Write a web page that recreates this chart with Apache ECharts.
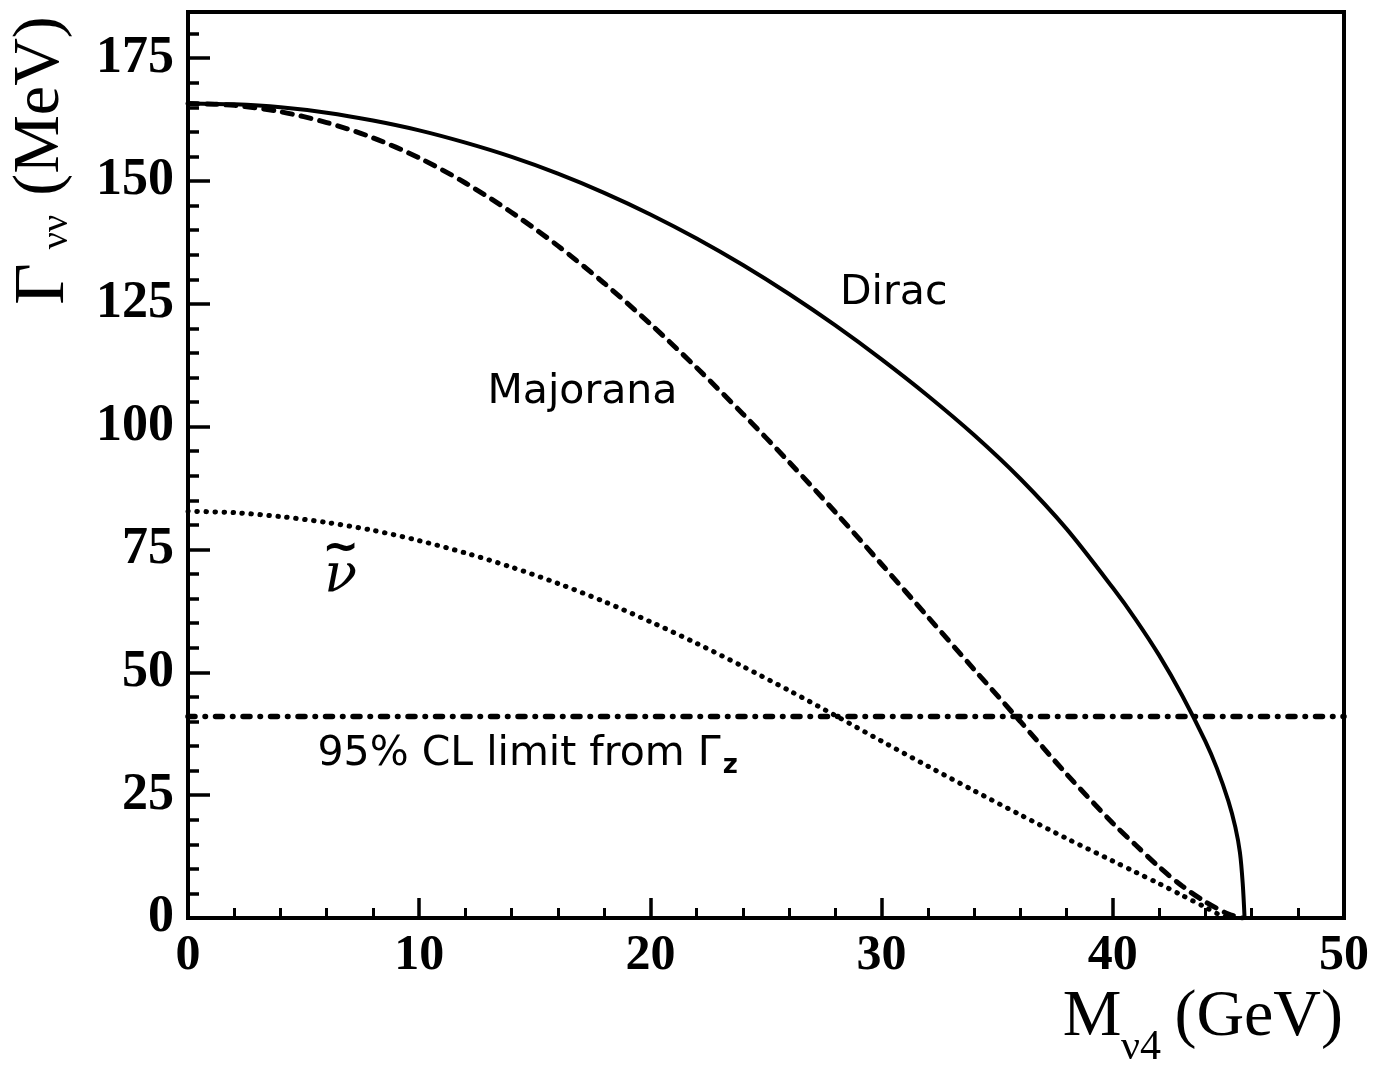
<!DOCTYPE html>
<html>
<head>
<meta charset="utf-8">
<script src="https://cdn.jsdelivr.net/npm/echarts@6/dist/echarts.min.js"></script>
<style>
html,body{margin:0;padding:0;background:#fff;}
#chart{width:1386px;height:1067px;}
</style>
</head>
<body>
<div id="chart"></div>
<script>
// ---- data ----
const diracMass = [0,2,4,6,8,10,12,14,16,18,20,22,24,26,28,30,32,34,36,38,40,41,42,43,44,44.5,45,45.3,45.5,45.62,45.7];
const diracWidth = [165.8,165.6,165.0,163.9,162.3,160.3,157.8,154.9,151.5,147.6,143.2,138.3,132.9,127.0,120.6,113.7,106.3,98.3,89.4,79.2,67.2,60.7,53.5,45.3,36.0,30.5,23.8,18.5,13.3,7.0,0];

const majoranaMass = [0,2,4,6,8,10,12,14,16,18,20,22,24,26,28,30,32,34,36,38,40,41,42,43,44,45,45.6];
const majoranaWidth = [165.8,165.4,164.1,161.9,158.8,154.7,149.6,143.6,136.8,129.2,120.9,112.0,102.6,92.8,82.6,72.0,61.3,50.6,40.0,29.3,19.3,14.8,10.4,6.5,3.3,0.8,0];

const sneutrinoMass = [0,2,4,6,8,10,12,14,16,18,20,22,24,26,28,30,32,34,36,38,40,41,42,43,44,44.6,45];
const sneutrinoWidth = [82.8,82.5,81.7,80.5,78.9,76.8,74.3,71.4,68.1,64.4,60.3,55.9,51.2,46.3,41.2,36.0,30.9,25.9,21.0,16.2,11.6,9.3,7.0,4.6,2.2,0.7,0];

const limitWidth = 41;
const limitMassRange = [0, 50];

const xTicks = [0,10,20,30,40,50];
const yTicks = [0,25,50,75,100,125,150,175];

// annotation anchors in data units [mass, width]
const annotations = [
  {text: 'Dirac', at: [28.2, 127.2]},
  {text: 'Majorana', at: [12.95, 107.0]},
  {text: '95% CL limit from Γ{s|z}', at: [5.6, 33.3]}
];
const sneutrinoLabelAt = [6.6, 69.5];

// ---- chart ----
const chart = echarts.init(document.getElementById('chart'), null, {renderer: 'canvas'});
const serif = '"Liberation Serif", "Times New Roman", serif';
const sans = '"DejaVu Sans", sans-serif';
const yMax = 184.4;

const option = {
  backgroundColor: '#fff',
  animation: false,
  grid: {left: 188, top: 12, width: 1156, height: 906, show: true, borderColor: '#000', borderWidth: 4, backgroundColor: 'transparent'},
  xAxis: {
    type: 'value', min: 0, max: 50, interval: 10,
    axisLine: {show: true, onZero: false, lineStyle: {color: '#000', width: 4}},
    axisTick: {show: true, inside: true, length: 20, lineStyle: {color: '#000', width: 3.5}},
    minorTick: {show: true, splitNumber: 5, length: 10, lineStyle: {color: '#000', width: 3}},
    splitLine: {show: false},
    axisLabel: {
      show: true, margin: 13, color: '#000', fontFamily: serif, fontWeight: 'bold', fontSize: 50,
      formatter: v => xTicks.includes(v) ? String(v) : ''
    }
  },
  yAxis: [
    {
      type: 'value', min: 0, max: yMax, interval: 5,
      axisLine: {show: true, onZero: false, lineStyle: {color: '#000', width: 4}},
      axisTick: {show: true, inside: true, length: 11, lineStyle: {color: '#000', width: 3.5}},
      axisLabel: {show: false},
      splitLine: {show: false}
    },
    {
      type: 'value', min: 0, max: yMax, interval: 25, position: 'left', offset: 0,
      axisLine: {show: false},
      axisTick: {show: true, inside: true, length: 22, lineStyle: {color: '#000', width: 3.5}},
      splitLine: {show: false},
      axisLabel: {
        show: true, margin: 14, color: '#000', fontFamily: serif, fontWeight: 'bold', fontSize: 52,
        formatter: v => yTicks.includes(v) ? String(v) : ''
      }
    }
  ],
  series: [
    {
      name: 'Dirac', type: 'line', showSymbol: false, smooth: 0.3,
      data: diracMass.map((m, i) => [m, diracWidth[i]]),
      lineStyle: {color: '#000', width: 4}
    },
    {
      name: 'Majorana', type: 'line', showSymbol: false, smooth: 0.3,
      data: majoranaMass.map((m, i) => [m, majoranaWidth[i]]),
      lineStyle: {color: '#000', width: 5, type: [10, 9], cap: 'round'}
    },
    {
      name: 'sneutrino', type: 'line', showSymbol: false, smooth: 0.3,
      data: sneutrinoMass.map((m, i) => [m, sneutrinoWidth[i]]),
      lineStyle: {color: '#000', width: 5, type: [0.5, 8.5], cap: 'round'}
    },
    {
      name: 'limit', type: 'line', showSymbol: false,
      data: limitMassRange.map(m => [m, limitWidth]),
      lineStyle: {color: '#000', width: 5.5, type: [7, 10, 0.5, 10], cap: 'round'}
    }
  ]
};
chart.setOption(option);

// annotations placed through the chart's own coordinate system
const g = [];
annotations.forEach(a => {
  const p = chart.convertToPixel({gridIndex: 0}, a.at);
  g.push({
    type: 'text', x: p[0], y: p[1], z: 10,
    style: {
      text: a.text, fill: '#000', font: '41px ' + sans, textAlign: 'left', textVerticalAlign: 'middle',
      rich: {s: {fontFamily: sans, fontSize: 26, fontWeight: 'bold', padding: [24, 0, 0, 2]}}
    }
  });
});
const sp = chart.convertToPixel({gridIndex: 0}, sneutrinoLabelAt);
g.push({type: 'text', x: sp[0], y: sp[1] - 27, z: 10,
  style: {text: '~', fill: '#000', font: 'bold 44px ' + sans, textAlign: 'center', textVerticalAlign: 'middle'}});
g.push({type: 'text', x: sp[0], y: sp[1], z: 10,
  style: {text: 'ν', fill: '#000', font: 'italic 54px "DejaVu Serif", serif', textAlign: 'center', textVerticalAlign: 'middle'}});

// axis titles
g.push({type: 'text', x: 1092, y: 1018, style: {text: 'M', fill: '#000', font: '66px ' + serif, textAlign: 'center', textVerticalAlign: 'middle'}});
g.push({type: 'text', x: 1141, y: 1048, style: {text: 'ν4', fill: '#000', font: '42px ' + serif, textAlign: 'center', textVerticalAlign: 'middle'}});
g.push({type: 'text', x: 1343, y: 1018, style: {text: '(GeV)', fill: '#000', font: '66px ' + serif, textAlign: 'right', textVerticalAlign: 'middle'}});

g.push({type: 'text', x: 44, y: 284, rotation: Math.PI / 2, style: {text: 'Γ', fill: '#000', font: '72px ' + serif, textAlign: 'center', textVerticalAlign: 'middle'}});
g.push({type: 'text', x: 57, y: 232, rotation: Math.PI / 2, style: {text: 'νν', fill: '#000', font: '38px ' + serif, textAlign: 'center', textVerticalAlign: 'middle'}});
g.push({type: 'text', x: 41, y: 106, rotation: Math.PI / 2, style: {text: '(MeV)', fill: '#000', font: '66px ' + serif, textAlign: 'center', textVerticalAlign: 'middle'}});

chart.setOption({graphic: g});
</script>
</body>
</html>
